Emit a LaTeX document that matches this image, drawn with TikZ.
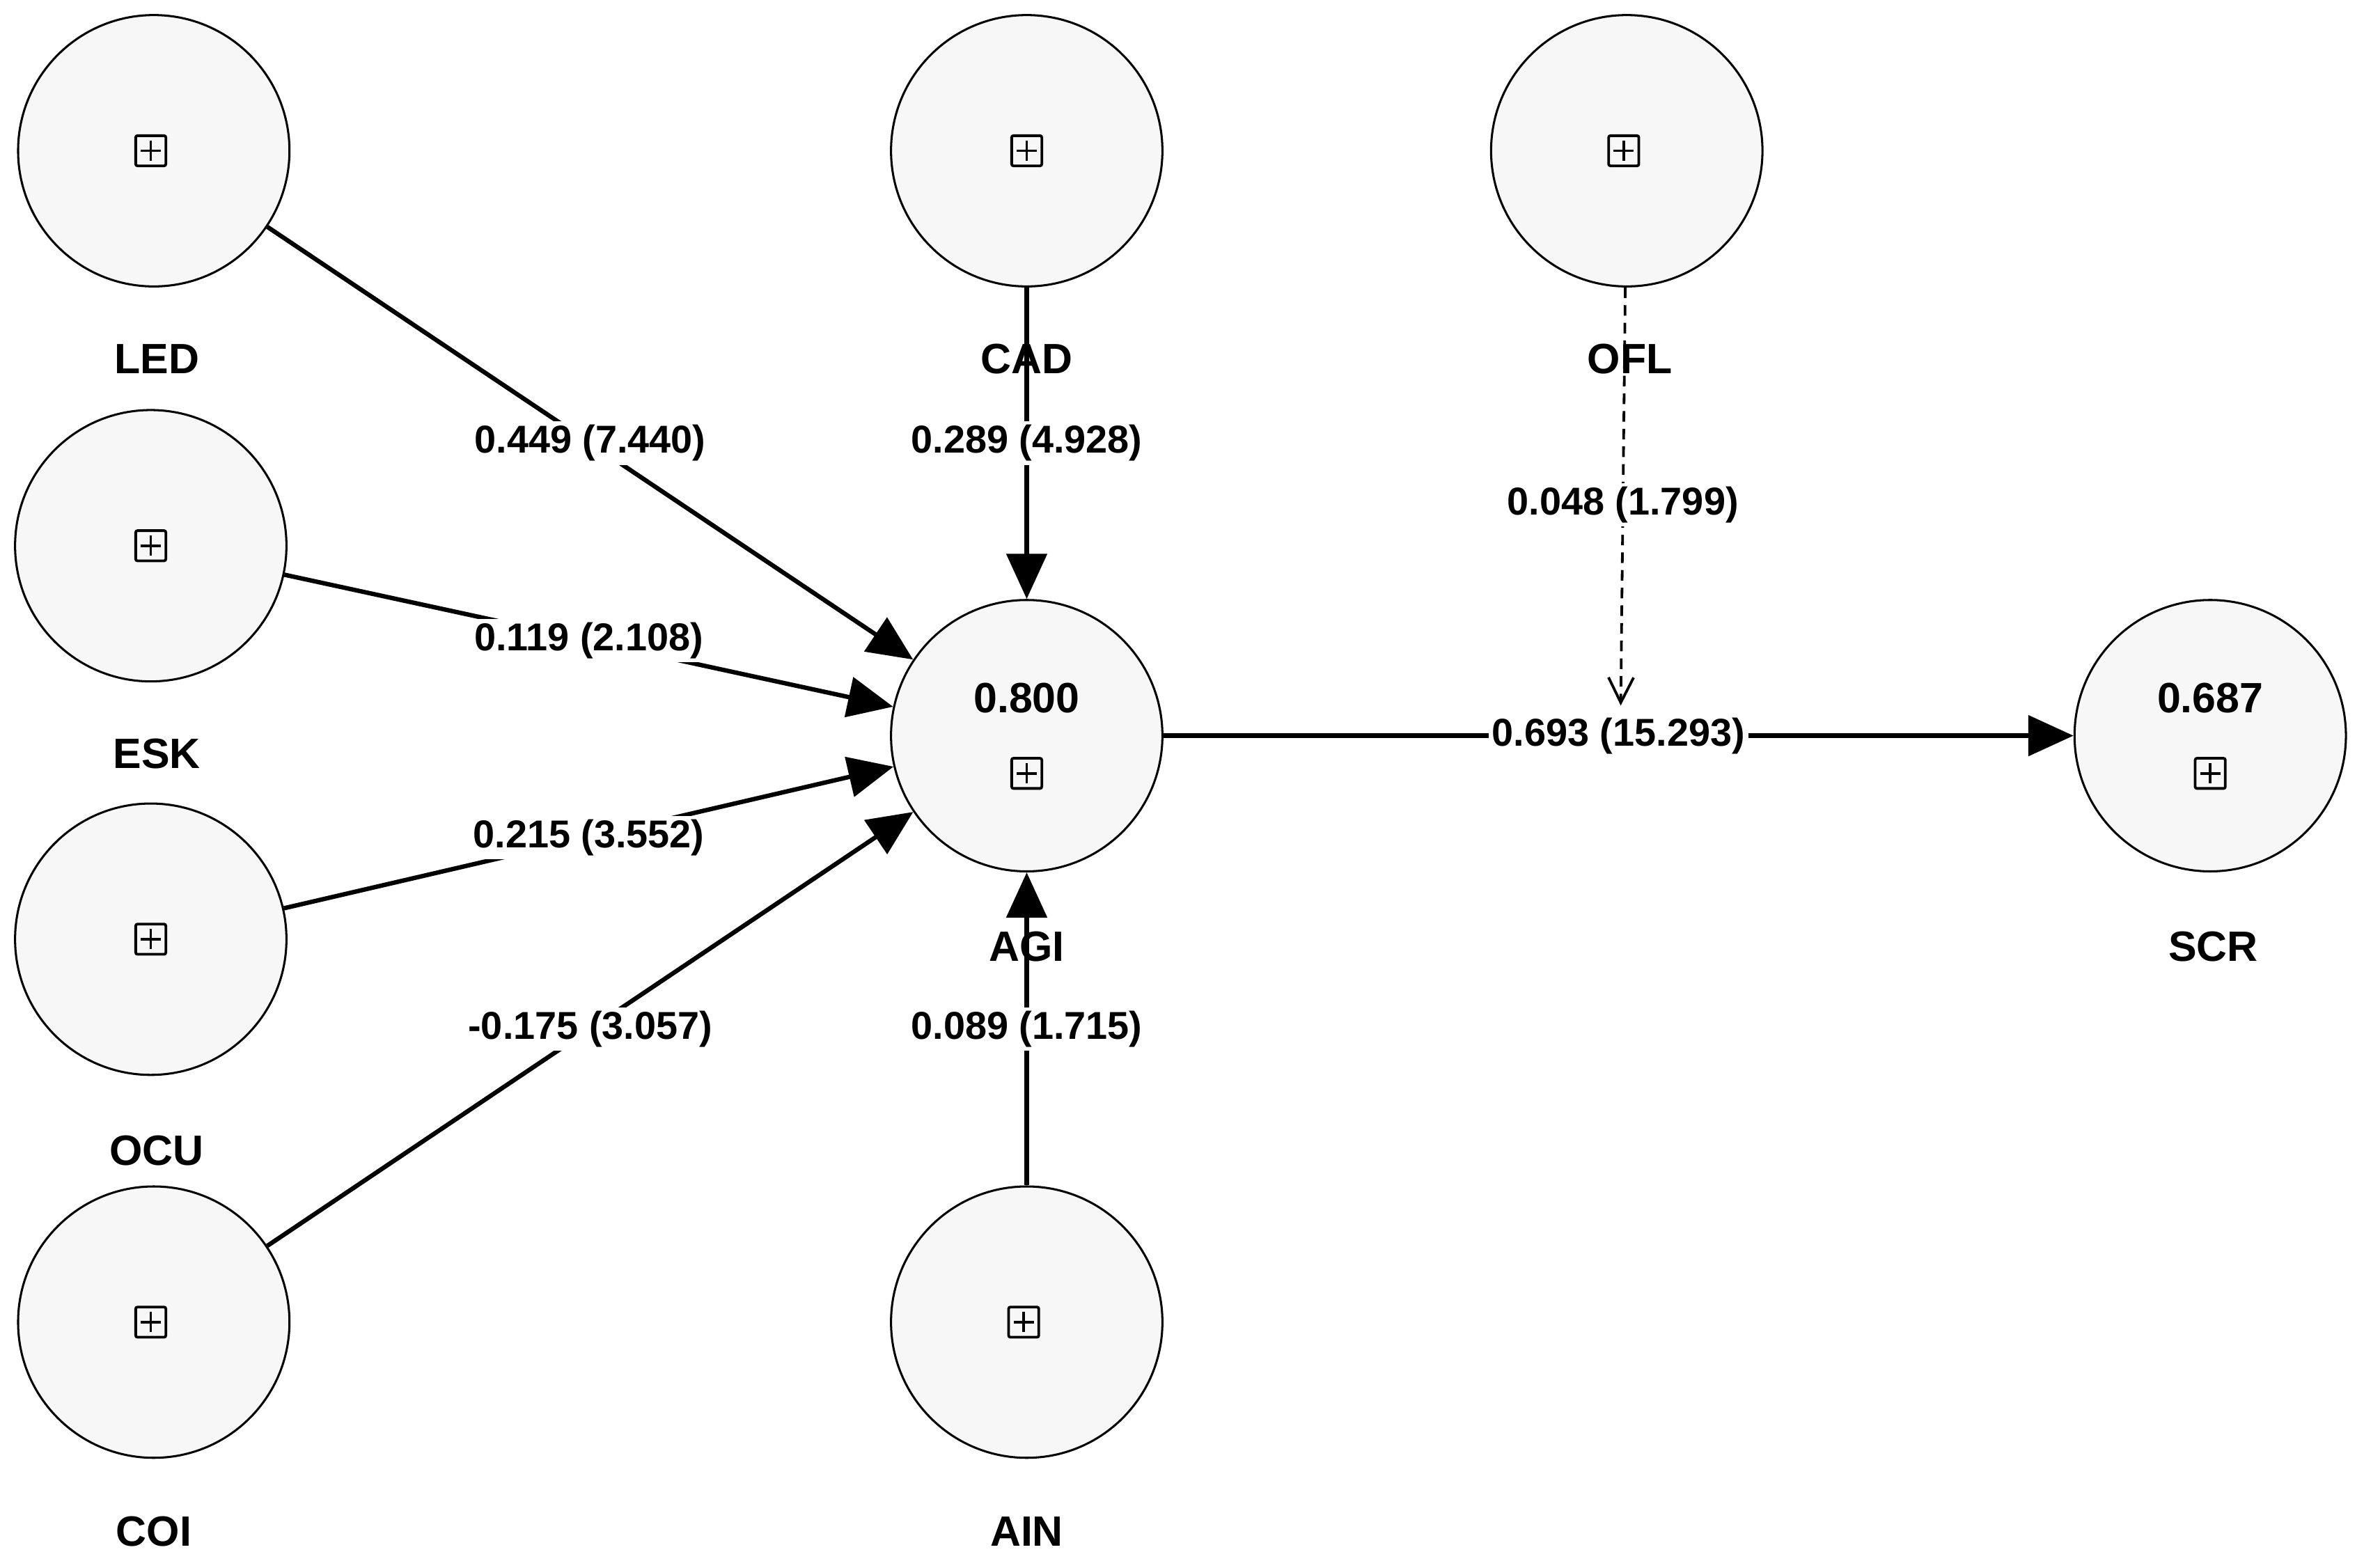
\documentclass[tikz,border=0pt]{standalone}
\usepackage{fontspec}
\setmainfont{Liberation Sans}
\usetikzlibrary{arrows.meta}
\begin{document}
\begin{tikzpicture}[x=0.03cm,y=-0.03cm,
  lv/.style={circle,draw,line width=1.2pt,fill=black!3,minimum size=5.4cm,inner sep=0pt},
  pl/.style={draw,line width=1.5pt,rounded corners=1pt,minimum size=0.6cm,inner sep=0pt,
    path picture={\draw[line width=1.5pt] ([xshift=-0.2cm]path picture bounding box.center)--([xshift=0.2cm]path picture bounding box.center);
    \draw[line width=1.5pt] ([yshift=-0.2cm]path picture bounding box.center)--([yshift=0.2cm]path picture bounding box.center);}},
  nm/.style={font=\fontsize{24}{28}\selectfont\bfseries},
  el/.style={fill=white,inner sep=2pt,font=\fontsize{22}{26}\selectfont\bfseries},
  ar/.style={line width=2.5pt,-{Triangle[length=0.9cm,width=0.8cm]}}]
\useasboundingbox (0,0) rectangle (1568,1040);
\node[lv] (LED) at (102,100) {}; \node[pl] (pLED) at (100,100) {};
\node[lv] (ESK) at (100,362) {}; \node[pl] (pESK) at (100,362) {};
\node[lv] (OCU) at (100,623) {}; \node[pl] (pOCU) at (100,623) {};
\node[lv] (COI) at (102,877) {}; \node[pl] (pCOI) at (100,877) {};
\node[lv] (CAD) at (681,100) {}; \node[pl] (pCAD) at (681,100) {};
\node[lv] (OFL) at (1079,100) {}; \node[pl] (pOFL) at (1077,100) {};
\node[lv] (AIN) at (681,877) {}; \node[pl] (pAIN) at (679,877) {};
\node[lv] (AGI) at (681,488) {}; \node[pl] (pAGI) at (681,513) {};
\node[nm] (vAGI) at (681,463) {0.800};
\node[lv] (SCR) at (1466,488) {}; \node[pl] (pSCR) at (1466,513) {};
\node[nm] (vSCR) at (1466,463) {0.687};
\node[nm] (tLED) at (104,238) {LED};
\node[nm] (tESK) at (104,500) {ESK};
\node[nm] (tOCU) at (104,763) {OCU};
\node[nm] (tCOI) at (102,1016) {COI};
\node[nm] (tCAD) at (681,238) {CAD};
\node[nm] (tOFL) at (1081,238) {OFL};
\node[nm] (tAGI) at (681,628) {AGI};
\node[nm] (tSCR) at (1468,628) {SCR};
\node[nm] (tAIN) at (681,1016) {AIN};
\draw[ar] (LED) -- node[el]{0.449 (7.440)} (AGI);
\draw[ar] (ESK) -- node[el]{0.119 (2.108)} (AGI);
\draw[ar] (OCU) -- node[el]{0.215 (3.552)} (AGI);
\draw[ar] (COI) -- node[el]{-0.175 (3.057)} (AGI);
\draw[ar] (CAD) -- node[el]{0.289 (4.928)} (AGI);
\draw[ar] (AIN) -- node[el]{0.089 (1.715)} (AGI);
\draw[ar] (AGI) -- node[el] (e693) {0.693 (15.293)} (SCR);
\coordinate (m) at (1075,468);
\draw[line width=1.5pt,dash pattern=on 6pt off 4pt,-{Straight Barb[length=0.5cm,width=0.5cm,open]}] (OFL) -- node[el,pos=0.52]{0.048 (1.799)} (m);
\end{tikzpicture}
\end{document}
